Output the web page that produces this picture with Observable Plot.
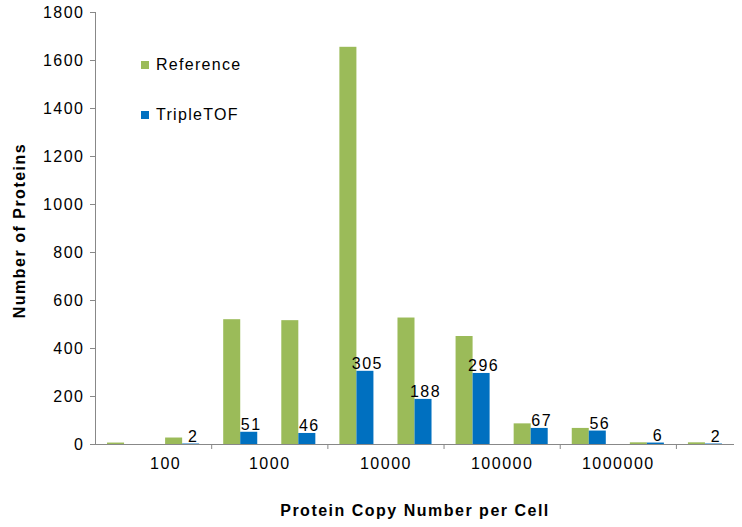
<!DOCTYPE html>
<html><head><meta charset="utf-8">
<script src="https://cdn.jsdelivr.net/npm/d3@7"></script>
<script src="https://cdn.jsdelivr.net/npm/@observablehq/plot@0.6"></script>
<style>
body{margin:0;background:#fff;font-family:"Liberation Sans",Arial,sans-serif}
#wrap{position:relative;width:742px;height:527px}
#wrap svg text{letter-spacing:1.5px}
#wrap svg g[aria-label="values"] text{letter-spacing:0px}
#wrap svg g[aria-label="ytitle"] text{letter-spacing:0.6px}
.lg{position:absolute;left:141px;font-size:16px;color:#000;display:flex;align-items:center;white-space:nowrap;letter-spacing:1.3px}
.lg span.sw{display:inline-block;width:8px;height:8px;margin-right:7px}
</style></head><body><div id="wrap"></div>
<script>
// 11 copy-number bins (log scale), labels on every other bin boundary
const bins = [0,1,2,3,4,5,6,7,8,9,10];
const reference = [6, 27, 520, 516, 1655, 527, 450, 86, 67, 7, 7];
const tripleTOF = [null, 2, 51, 46, 305, 188, 296, 67, 56, 6, 2];
const tickLabels = ["100", "1000", "10000", "100000", "1000000"];
const yTicks = [0,200,400,600,800,1000,1200,1400,1600,1800];

const green = "#9BBB59", blue = "#0070C0", gray = "#888888";
const bw = 0.293;

const refData = bins.map((b, i) => ({i: b, v: reference[i]}));
const tofData = bins.map((b, i) => ({i: b, v: tripleTOF[i]})).filter(d => d.v != null);

const plot = Plot.plot({
  width: 742, height: 527,
  marginLeft: 95, marginRight: 8, marginTop: 12, marginBottom: 83,
  style: {fontFamily: '"Liberation Sans", Arial, sans-serif', fontSize: "16px", color: "#000", background: "#fff"},
  x: {domain: [0, bins.length], axis: null},
  y: {domain: [0, 1800], axis: null},
  marks: [
    Plot.rectY(refData, {x1: d => d.i + 0.5 - bw, x2: d => d.i + 0.5, y: "v", fill: green}),
    Plot.rectY(tofData, {x1: d => d.i + 0.5, x2: d => d.i + 0.5 + bw, y: "v", fill: blue}),
    Plot.text(tofData, {x: d => d.i + 0.5 + bw / 2, y: "v", text: d => String(d.v), lineAnchor: "bottom", dy: -2, dx: 2, fontSize: 16, fill: "#000", ariaLabel: "values"}),
    Plot.ruleY([0], {stroke: gray}),
    Plot.ruleX([0], {stroke: gray}),
    Plot.axisY({ticks: yTicks, tickSize: 5, tickFormat: () => "", stroke: gray, label: null}),
    Plot.axisY({ticks: yTicks, tickSize: 0, tickPadding: 11, fontSize: 16, fill: "#000", label: null, tickFormat: d => String(d)}),
    Plot.axisX({ticks: [2, 4, 6, 8, 10], tickSize: 5, tickFormat: () => "", stroke: gray, label: null}),
    Plot.axisX({ticks: [1], tickSize: 0, tickPadding: 13, fontSize: 16, fill: "#000", dx: 12,
      tickFormat: d => tickLabels[(d - 1) / 2], label: null}),
    Plot.axisX({ticks: [3, 5, 7, 9], tickSize: 0, tickPadding: 13, fontSize: 16, fill: "#000",
      tickFormat: d => tickLabels[(d - 1) / 2], label: null}),
    Plot.text(["Protein Copy Number per Cell"], {frameAnchor: "bottom", dy: 71, fontWeight: "bold", fontSize: 16, fill: "#000"}),
    Plot.text(["Number of Proteins"], {frameAnchor: "left", textAnchor: "middle", dx: -76, dy: 2, rotate: -90, fontWeight: "bold", fontSize: 16, fill: "#000", ariaLabel: "ytitle"})
  ]
});
const wrap = document.getElementById("wrap");
wrap.appendChild(plot);
[["Reference", green, 56], ["TripleTOF", blue, 106]].forEach(([t, c, top]) => {
  const d = document.createElement("div");
  d.className = "lg";
  d.style.top = top + "px";
  d.innerHTML = `<span class="sw" style="background:${c}"></span>${t}`;
  wrap.appendChild(d);
});
</script></body></html>
